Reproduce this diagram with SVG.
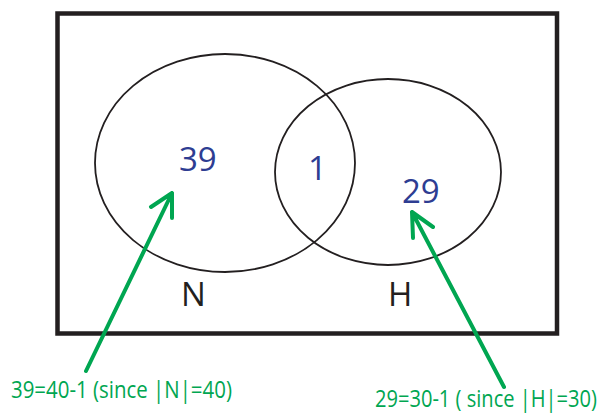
<svg xmlns="http://www.w3.org/2000/svg" width="602" height="415" viewBox="0 0 602 415">
<style>
.set{fill:none;stroke:#231F20;stroke-width:1.8}
.num{font-family:"Open Sans",sans-serif;font-size:33px;fill:#2E3D92}
.lab{font-family:"Open Sans",sans-serif;font-size:33px;fill:#231F20}
.note{font-family:"Open Sans",sans-serif;font-size:24.5px;fill:#00A651}
.arr{fill:none;stroke:#00A651;stroke-width:4;stroke-linecap:round;stroke-linejoin:round}
</style>
<rect width="602" height="415" fill="#fff"/>
<g id="universe"><rect x="57.5" y="13.5" width="499.5" height="320" fill="none" stroke="#231F20" stroke-width="4.5"/></g>
<g id="setN">
<ellipse class="set" cx="225" cy="163" rx="130" ry="109"/>
<text class="num" x="179" y="171">39</text>
<text class="lab" x="181" y="306">N</text>
</g>
<g id="setH">
<ellipse class="set" cx="388" cy="172" rx="113" ry="93"/>
<text class="num" x="402" y="203">29</text>
<text class="lab" x="388" y="306">H</text>
</g>
<g id="intersection"><text class="num" x="308" y="180">1</text></g>
<g id="connectors">
<path class="arr" d="M86 371 L172 193 M151 207 L172 193 L172 218"/>
<path class="arr" d="M504 387 L412 212 M413 238 L412 212 L433 227"/>
</g>
<g id="noteN"><text class="note" transform="translate(11 398) scale(0.835 1)">39=40-1 (since |N|=40)</text></g>
<g id="noteH"><text class="note" transform="translate(375 407) scale(0.82 1)">29=30-1 ( since |H|=30)</text></g>
</svg>
